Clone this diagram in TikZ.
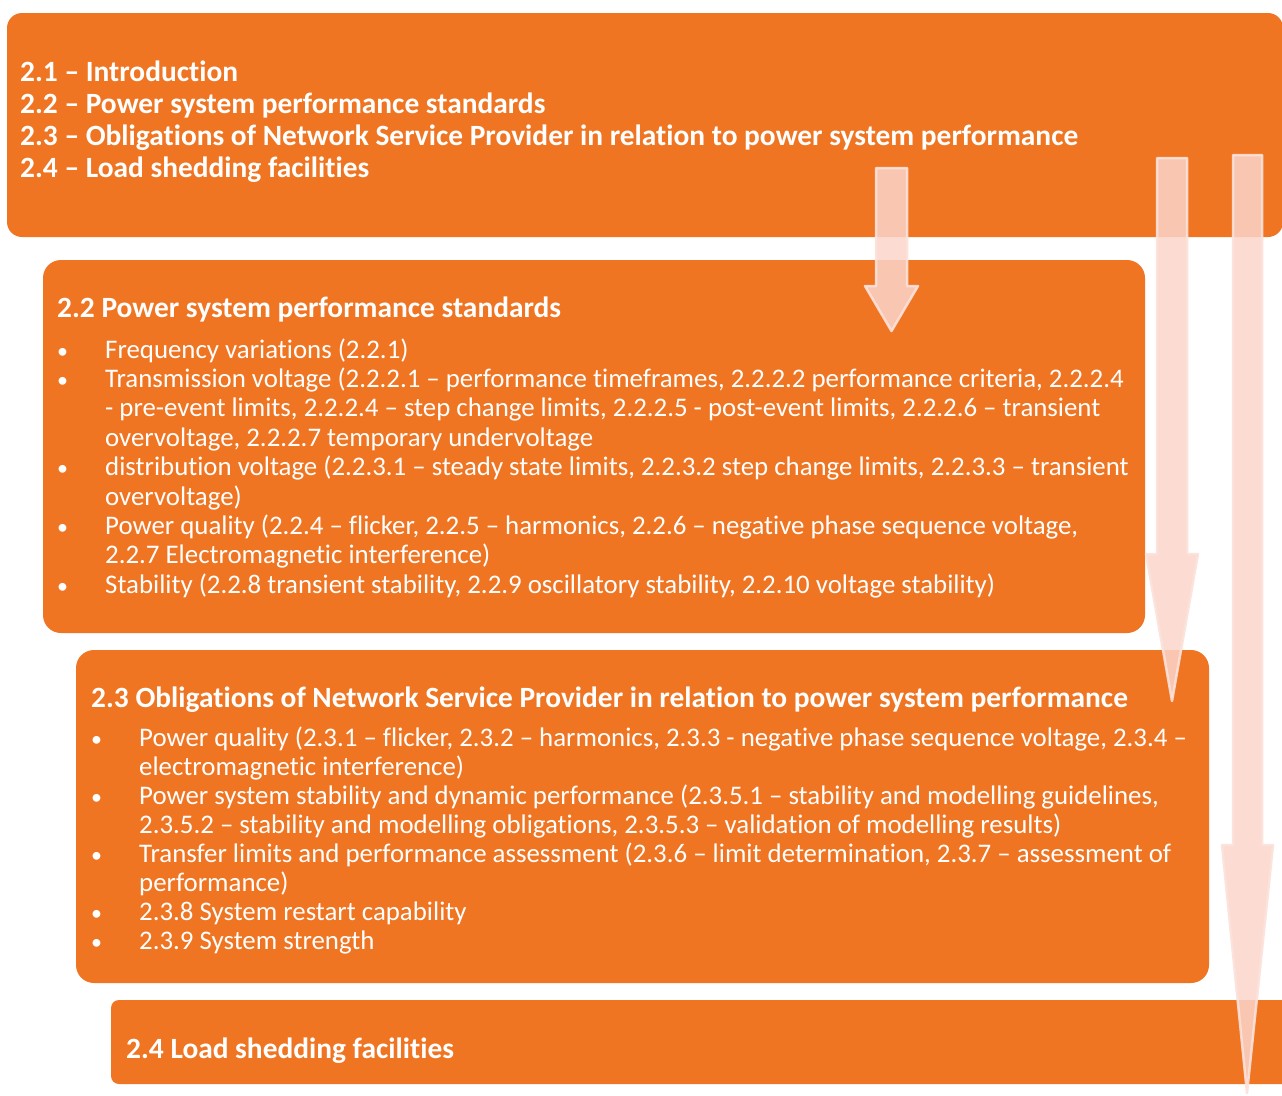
\documentclass[tikz,border=0pt]{standalone}
\usepackage{fontspec}
\setmainfont{Carlito}[Ligatures=NoCommon]
\definecolor{boxorange}{RGB}{240,117,34}
\definecolor{arrowpink}{RGB}{251,213,203}
\definecolor{arrowedge}{RGB}{252,226,219}
\begin{document}
\begin{tikzpicture}[x=1pt,y=-1pt,
  box/.style={fill=boxorange, draw=none, inner sep=0pt, rectangle},
  txt/.style={text=white, anchor=base west, inner sep=0pt, font=\fontsize{26.85}{29}\selectfont},
  bul/.style={text=white, anchor=base west, inner sep=0pt, font=\fontsize{22}{29}\selectfont},
  hd/.style={txt, font=\bfseries\fontsize{29.4}{32}\selectfont},
  toph/.style={txt, font=\bfseries\fontsize{29.4}{32}\selectfont},
  bigarrow/.style={fill=arrowpink, fill opacity=0.85, draw=arrowedge, draw opacity=0.9, line width=2.5pt, line join=round}
]
\useasboundingbox (0,0) rectangle (1282,1095);
\fill[white] (0,0) rectangle (1282,1095);

% boxes
\node[box, rounded corners=15pt, minimum width=1276pt, minimum height=224pt] (box1) at (645,125) {};
\node[box, rounded corners=18pt, minimum width=1102pt, minimum height=373pt] (box2) at (594,446.5) {};
\node[box, rounded corners=18pt, minimum width=1133pt, minimum height=333pt] (box3) at (642.5,816.5) {};
\node[box, rounded corners=8pt, minimum width=1190pt, minimum height=84pt] (box4) at (706,1042) {};

% box 1 text
\node[toph] (t1) at (20,81) {2.1 – Introduction};
\node[toph] (t2) at (20,113) {2.2 – Power system performance standards};
\node[toph] (t3) at (20,145) {2.3 – Obligations of Network Service Provider in relation to power system performance};
\node[toph] (t4) at (20,177) {2.4 – Load shedding facilities};

% box 2 text
\node[hd] (h2) at (57,317) {2.2 Power system performance standards};
\node[bul] (b21) at (57,358) {•};
\node[txt] (l21) at (105,358) {Frequency variations (2.2.1)};
\node[bul] (b22) at (57,387.4) {•};
\node[txt] (l22) at (105,387.4) {Transmission voltage (2.2.2.1 – performance timeframes, 2.2.2.2 performance criteria, 2.2.2.4};
\node[txt] (l23) at (105,416.8) {- pre-event limits, 2.2.2.4 – step change limits, 2.2.2.5 - post-event limits, 2.2.2.6 – transient};
\node[txt] (l24) at (105,446.2) {overvoltage, 2.2.2.7 temporary undervoltage};
\node[bul] (b23) at (57,475.6) {•};
\node[txt] (l25) at (105,475.6) {distribution voltage (2.2.3.1 – steady state limits, 2.2.3.2 step change limits, 2.2.3.3 – transient};
\node[txt] (l26) at (105,505) {overvoltage)};
\node[bul] (b24) at (57,534.4) {•};
\node[txt] (l27) at (105,534.4) {Power quality (2.2.4 – flicker, 2.2.5 – harmonics, 2.2.6 – negative phase sequence voltage,};
\node[txt] (l28) at (105,563.8) {2.2.7 Electromagnetic interference)};
\node[bul] (b25) at (57,593.2) {•};
\node[txt] (l29) at (105,593.2) {Stability (2.2.8 transient stability, 2.2.9 oscillatory stability, 2.2.10 voltage stability)};

% box 3 text
\node[hd] (h3) at (91,707) {2.3 Obligations of Network Service Provider in relation to power system performance};
\node[bul] (b31) at (91,746) {•};
\node[txt] (l31) at (139,746) {Power quality (2.3.1 – flicker, 2.3.2 – harmonics, 2.3.3 - negative phase sequence voltage, 2.3.4 –};
\node[txt] (l32) at (139,775.1) {electromagnetic interference)};
\node[bul] (b32) at (91,804.2) {•};
\node[txt] (l33) at (139,804.2) {Power system stability and dynamic performance (2.3.5.1 – stability and modelling guidelines,};
\node[txt] (l34) at (139,833.3) {2.3.5.2 – stability and modelling obligations, 2.3.5.3 – validation of modelling results)};
\node[bul] (b33) at (91,862.4) {•};
\node[txt] (l35) at (139,862.4) {Transfer limits and performance assessment (2.3.6 – limit determination, 2.3.7 – assessment of};
\node[txt] (l36) at (139,891.5) {performance)};
\node[bul] (b34) at (91,920.6) {•};
\node[txt] (l37) at (139,920.6) {2.3.8 System restart capability};
\node[bul] (b35) at (91,949.7) {•};
\node[txt] (l38) at (139,949.7) {2.3.9 System strength};

% box 4 text
\node[hd] (h4) at (126,1058) {2.4 Load shedding facilities};

% arrows
\draw[bigarrow] (876,168) -- (907,168) -- (907,286) -- (918,286) -- (891.5,331) -- (865,286) -- (876,286) -- cycle;
\draw[bigarrow] (1157,158) -- (1187,158) -- (1187,554) -- (1198,554) -- (1172,701) -- (1146,554) -- (1157,554) -- cycle;
\draw[bigarrow] (1233,155) -- (1262,155) -- (1262,845) -- (1273,845) -- (1247,1093) -- (1222,845) -- (1233,845) -- cycle;
\end{tikzpicture}
\end{document}
